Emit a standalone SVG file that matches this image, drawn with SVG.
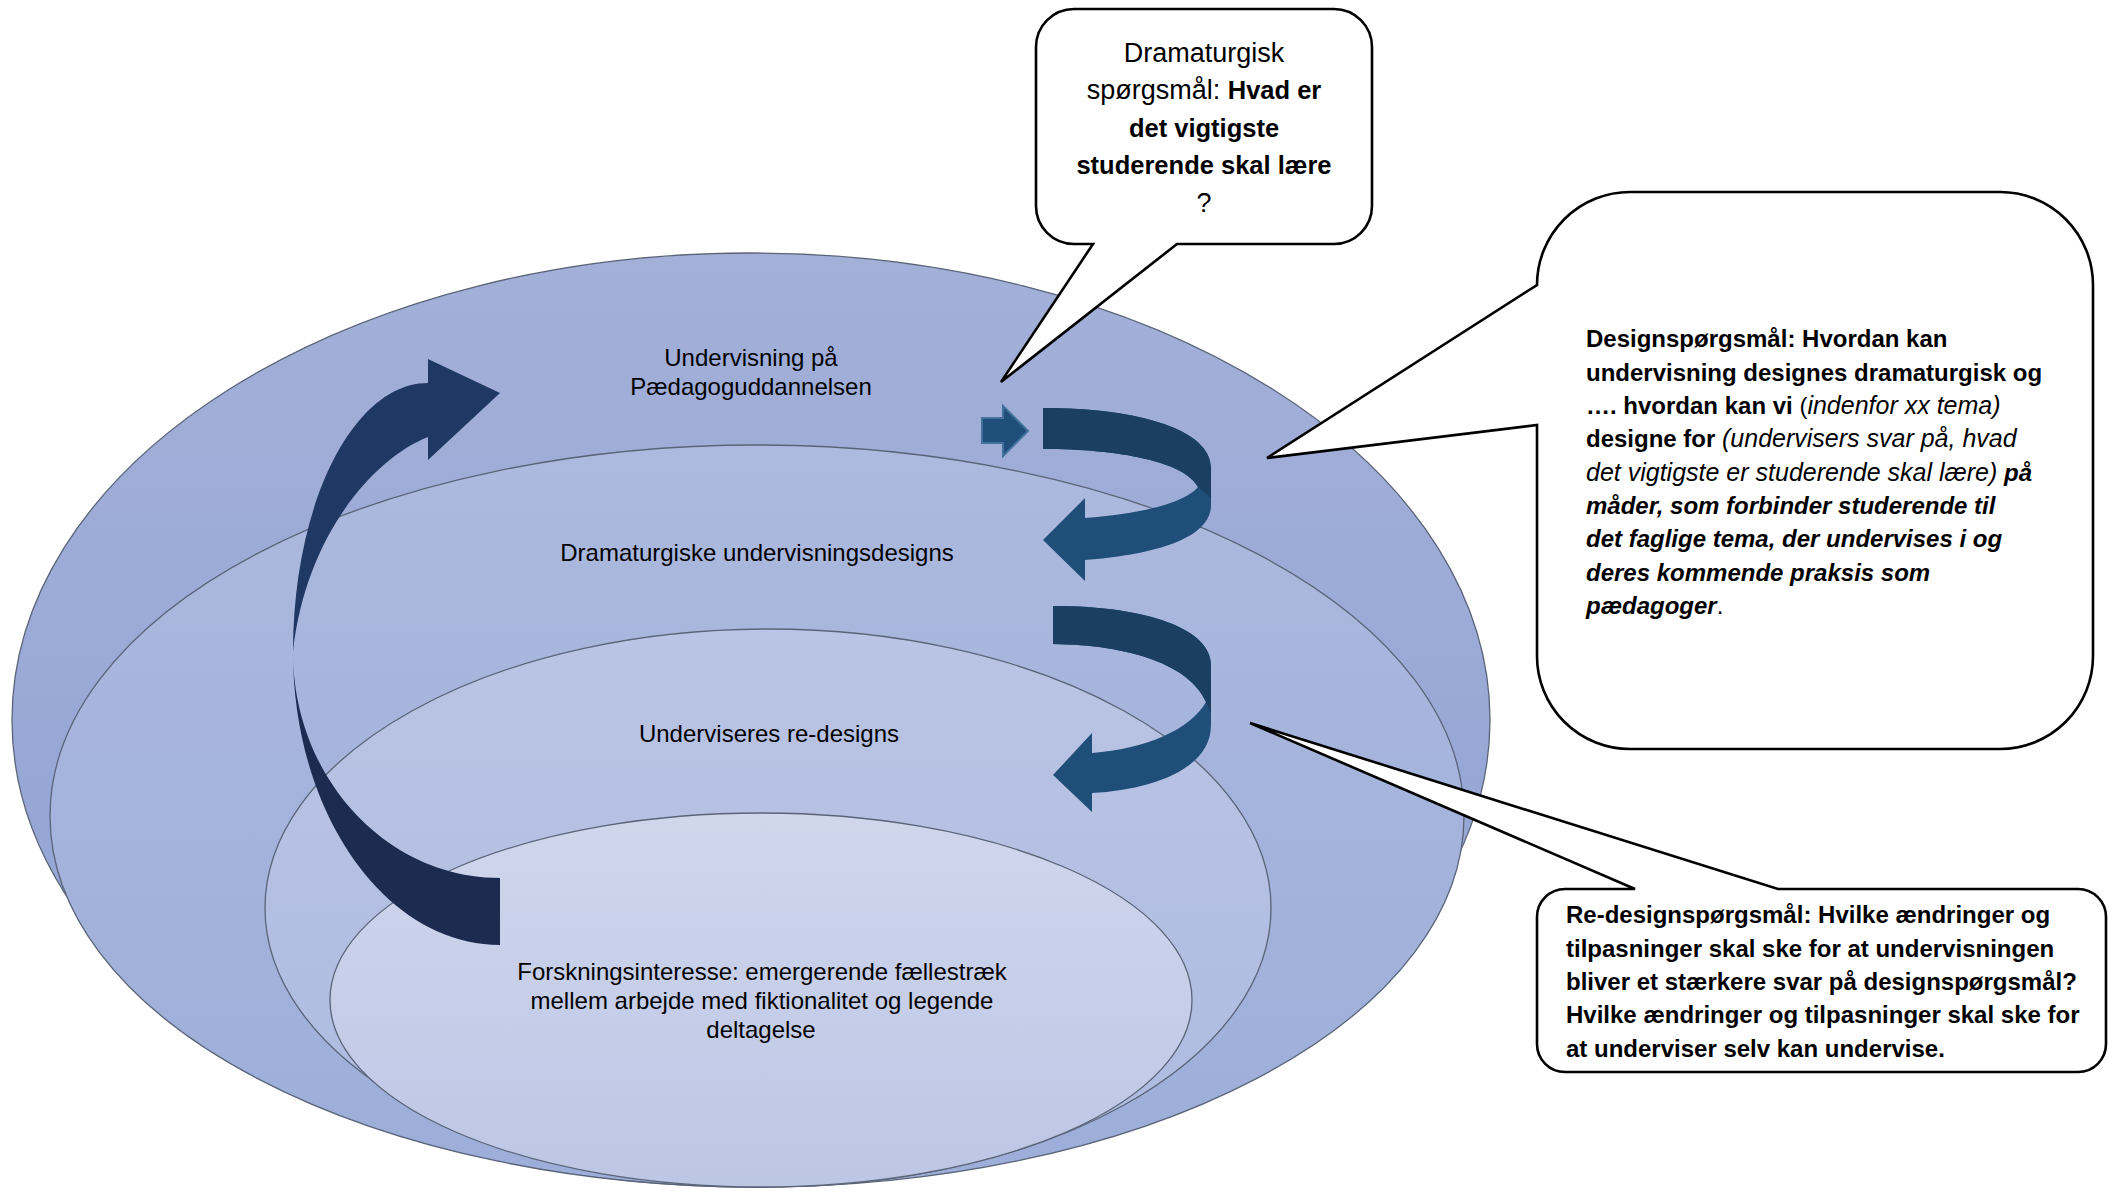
<svg xmlns="http://www.w3.org/2000/svg" width="2108" height="1191" viewBox="0 0 2108 1191">
<defs>
<linearGradient id="g1" x1="0" y1="0" x2="0" y2="1"><stop offset="0" stop-color="#a3b0d8"/><stop offset="1" stop-color="#8fa1d4"/></linearGradient>
<linearGradient id="g2" x1="0" y1="0" x2="0" y2="1"><stop offset="0" stop-color="#adb9de"/><stop offset="1" stop-color="#9caed9"/></linearGradient>
<linearGradient id="g3" x1="0" y1="0" x2="0" y2="1"><stop offset="0" stop-color="#bac4e4"/><stop offset="1" stop-color="#adbae0"/></linearGradient>
<linearGradient id="g4" x1="0" y1="0" x2="0" y2="1"><stop offset="0" stop-color="#d0d6ec"/><stop offset="1" stop-color="#bcc6e5"/></linearGradient>
<style>
.ring{stroke:#5a6478;stroke-width:1.3}
.lbl{font-family:"Liberation Sans",Arial,sans-serif;font-size:24px;fill:#000;text-anchor:middle}
.call{fill:#fff;stroke:#000;stroke-width:2.6;stroke-linejoin:miter}
.ct{font-family:"Liberation Sans",Arial,sans-serif;font-size:24px;fill:#000}
.dt{font-family:"Liberation Sans",Arial,sans-serif;font-size:27px;fill:#000;text-anchor:middle}
.db{font-weight:bold;font-size:25.5px}
.b{font-weight:bold}
.i{font-style:italic;font-size:25px}
.bi{font-weight:bold;font-style:italic}
.front{fill:#1f4e79}
.back{fill:#1a3f60}
</style>
</defs>
<rect width="2108" height="1191" fill="#fff"/>
<g id="ring-outer">
<ellipse class="ring" cx="751" cy="720" rx="739" ry="467" fill="url(#g1)"/>
<text class="lbl" x="751" y="366">Undervisning på</text>
<text class="lbl" x="751" y="395">Pædagoguddannelsen</text>
</g>
<g id="ring-design">
<ellipse class="ring" cx="757" cy="816" rx="707" ry="371" fill="url(#g2)"/>
<text class="lbl" x="757" y="561">Dramaturgiske undervisningsdesigns</text>
</g>
<g id="ring-redesign">
<ellipse class="ring" cx="768" cy="908" rx="503" ry="279" fill="url(#g3)"/>
<text class="lbl" x="769" y="742">Underviseres re-designs</text>
</g>
<g id="ring-research">
<ellipse class="ring" cx="761" cy="1000" rx="431" ry="187" fill="url(#g4)"/>
<text class="lbl" x="762" y="980">Forskningsinteresse: emergerende fællestræk</text>
<text class="lbl" x="762" y="1009">mellem arbejde med fiktionalitet og legende</text>
<text class="lbl" x="761" y="1038">deltagelse</text>
</g>
<g id="connectors">
<path d="M428 383 C353.5 383 293 503.5 293 652 C305 540 370 460 428 437 L428 460 L500 393 L428 359 Z" fill="#203864"/>
<path d="M293 652 C293 813.7 385.7 945 500 945 L500 878 C385.7 878 293 776.8 293 652 Z" fill="#1c2b4f"/>
<path d="M982 418 H1003 V406 L1028 431 L1003 456 V443 H982 Z" fill="#1f4e79" stroke="#41719c" stroke-width="2"/>
<path class="front" d="M1043 408 C1140 408 1211 430 1211 468 L1211 505 C1211 540 1150 555 1085 560 L1085 581 L1043 540 L1085 498 L1085 518 C1140 514 1185 503 1198 487 C1185 462 1120 449 1043 449 Z"/>
<path class="back" d="M1043 408 C1140 408 1211 430 1211 468 L1211 498 L1198 487 C1185 462 1120 449 1043 449 Z"/>
<path class="front" d="M1053 606 C1150 606 1211 630 1211 665 L1211 725 C1211 770 1150 790 1092 793 L1092 812 L1053 775 L1092 733 L1092 753 C1145 749 1190 730 1206 702 C1190 665 1130 645 1053 644 Z"/>
<path class="back" d="M1053 606 C1150 606 1211 630 1211 665 L1211 713 L1206 702 C1190 665 1130 645 1053 644 Z"/>
</g>
<g id="callout-dramaturgisk">
<path class="call" d="M1074 9 H1334 A38 38 0 0 1 1372 47 V206 A38 38 0 0 1 1334 244 H1177 L1001 382 L1093 244 H1074 A38 38 0 0 1 1036 206 V47 A38 38 0 0 1 1074 9 Z"/>
<text class="dt" x="1204" y="62">Dramaturgisk</text>
<text class="dt" x="1204" y="99">spørgsmål: <tspan class="db">Hvad er</tspan></text>
<text class="dt db" x="1204" y="137">det vigtigste</text>
<text class="dt db" x="1204" y="174">studerende skal lære</text>
<text class="dt" x="1204" y="212">?</text>
</g>
<g id="callout-design">
<path class="call" d="M1630 192 H2000 A93 93 0 0 1 2093 285 V656 A93 93 0 0 1 2000 749 H1630 A93 93 0 0 1 1537 656 V425 L1267 458 L1537 285 A93 93 0 0 1 1630 192 Z"/>
<text class="ct b" x="1586" y="347">Designspørgsmål: Hvordan kan</text>
<text class="ct b" x="1586" y="380.5">undervisning designes dramaturgisk og</text>
<text class="ct" x="1586" y="414"><tspan class="b">…. hvordan kan vi</tspan> (<tspan class="i">indenfor xx tema)</tspan></text>
<text class="ct" x="1586" y="447"><tspan class="b">designe for</tspan> <tspan class="i">(undervisers svar på, hvad</tspan></text>
<text class="ct" x="1586" y="480.5"><tspan class="i">det vigtigste er studerende skal lære)</tspan> <tspan class="bi">på</tspan></text>
<text class="ct bi" x="1586" y="514">måder, som forbinder studerende til</text>
<text class="ct bi" x="1586" y="547">det faglige tema, der undervises i og</text>
<text class="ct bi" x="1586" y="580.5">deres kommende praksis som</text>
<text class="ct" x="1586" y="614"><tspan class="bi">pædagoger</tspan>.</text>
</g>
<g id="callout-redesign">
<path class="call" d="M1565 889 H1635 L1250 723 L1778 889 H2078 A28 28 0 0 1 2106 917 V1044 A28 28 0 0 1 2078 1072 H1565 A28 28 0 0 1 1537 1044 V917 A28 28 0 0 1 1565 889 Z"/>
<text class="ct b" x="1566" y="923">Re-designspørgsmål: Hvilke ændringer og</text>
<text class="ct b" x="1566" y="956.5">tilpasninger skal ske for at undervisningen</text>
<text class="ct b" x="1566" y="990">bliver et stærkere svar på designspørgsmål?</text>
<text class="ct b" x="1566" y="1023">Hvilke ændringer og tilpasninger skal ske for</text>
<text class="ct b" x="1566" y="1056.5">at underviser selv kan undervise.</text>
</g>
</svg>
